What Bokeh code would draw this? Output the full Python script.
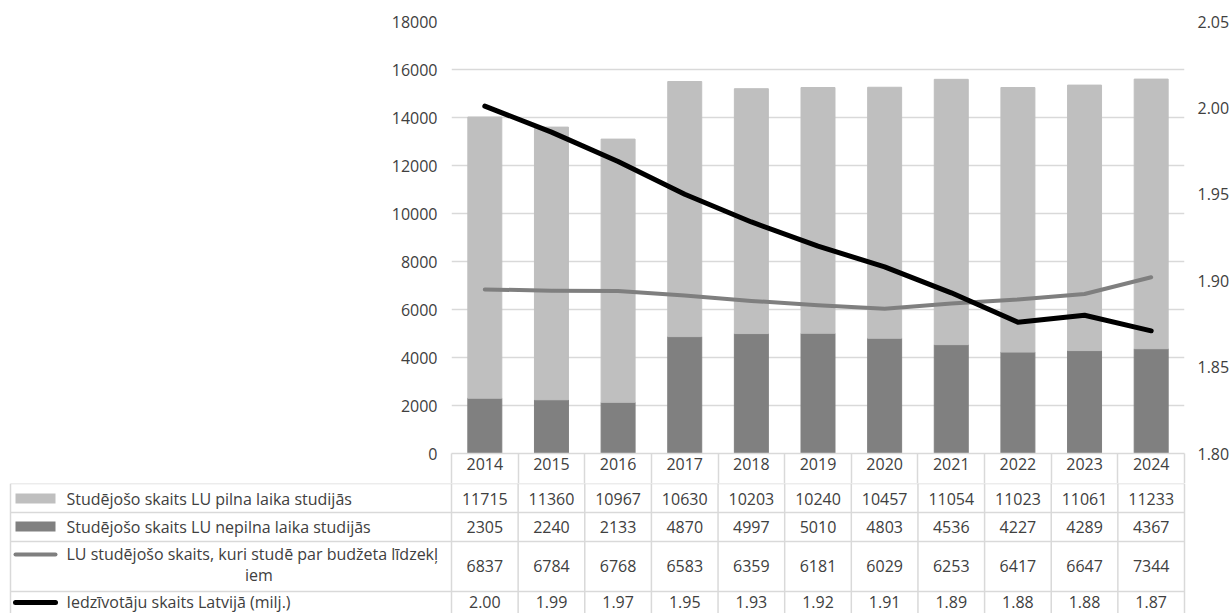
from bokeh.plotting import figure
from bokeh.models import (ColumnDataSource, Range1d, LinearAxis, FixedTicker,
                          PrintfTickFormatter, Grid)
from bokeh.layouts import column
from bokeh.embed import file_html
from bokeh.resources import INLINE
from bokeh.core.properties import value

# ---------------- data ----------------
years = [2014, 2015, 2016, 2017, 2018, 2019, 2020, 2021, 2022, 2023, 2024]
full_time = [11715, 11360, 10967, 10630, 10203, 10240, 10457, 11054, 11023, 11061, 11233]
part_time = [2305, 2240, 2133, 4870, 4997, 5010, 4803, 4536, 4227, 4289, 4367]
budget = [6837, 6784, 6768, 6583, 6359, 6181, 6029, 6253, 6417, 6647, 7344]
population = [2.001, 1.986, 1.969, 1.950, 1.934, 1.920, 1.908, 1.893, 1.876, 1.880, 1.871]

series_names = [
    "Studējošo skaits LU pilna laika studijās",
    "Studējošo skaits LU nepilna laika studijās",
    "LU studējošo skaits, kuri studē par budžeta līdzekļ",
    "Iedzīvotāju skaits Latvijā (milj.)",
]
series_name_wrap = "iem"
left_ticks = [0, 2000, 4000, 6000, 8000, 10000, 12000, 14000, 16000, 18000]
right_ticks = [1.80, 1.85, 1.90, 1.95, 2.00, 2.05]

# ---------------- style ----------------
FONT = "Open Sans"
FS = "16px"
TXT = "#404040"
GRID = "#D9D9D9"
LIGHT = "#BFBFBF"
DARK = "#808080"
GRAYLINE = "#7F7F7F"

W = 1232
TOP_H = 483
FL, FR, FT, FB = 451, 48, 21, 30
n = len(years)
xs = list(range(n))

src = ColumnDataSource(dict(x=xs, full=full_time, part=part_time,
                            budget=budget, pop=population))

p = figure(width=W, height=TOP_H, output_backend="svg", toolbar_location=None,
           x_range=Range1d(-0.5, n - 0.5), y_range=Range1d(left_ticks[0], left_ticks[-1]),
           min_border_left=FL, min_border_right=FR, min_border_top=FT, min_border_bottom=FB,
           x_axis_location=None, y_axis_location=None, frame_align=False)
p.outline_line_color = None
p.background_fill_color = "white"
p.border_fill_color = "white"
p.xgrid.visible = False
p.ygrid.visible = False
p.extra_y_ranges = {"pop": Range1d(right_ticks[0], right_ticks[-1])}

# left axis
yax = LinearAxis(ticker=FixedTicker(ticks=left_ticks))
yax.axis_line_color = None
yax.major_tick_line_color = None
yax.minor_tick_line_color = None
yax.major_tick_out = 0
yax.major_tick_in = 0
yax.major_label_standoff = 14
yax.major_label_text_font = FONT
yax.major_label_text_font_size = FS
yax.major_label_text_color = TXT
p.add_layout(yax, "left")
p.add_layout(Grid(dimension=1, ticker=yax.ticker, grid_line_color=GRID,
                  grid_line_width=1.3), "center")

# right axis
rax = LinearAxis(y_range_name="pop", ticker=FixedTicker(ticks=right_ticks),
                 formatter=PrintfTickFormatter(format="%.2f"))
rax.axis_line_color = None
rax.major_tick_line_color = None
rax.minor_tick_line_color = None
rax.major_tick_out = 0
rax.major_tick_in = 0
rax.major_label_standoff = 13
rax.major_label_text_font = FONT
rax.major_label_text_font_size = FS
rax.major_label_text_color = TXT
p.add_layout(rax, "right")

# bottom axis = header row of the data table
xax = LinearAxis(ticker=FixedTicker(ticks=xs, minor_ticks=[i - 0.5 for i in range(n + 1)]),
                 major_label_overrides={i: str(y) for i, y in enumerate(years)})
xax.axis_line_color = GRID
xax.axis_line_width = 1.5
xax.major_tick_line_color = None
xax.major_tick_out = 0
xax.major_tick_in = 0
xax.minor_tick_in = 0
xax.minor_tick_out = 30
xax.minor_tick_line_color = GRID
xax.minor_tick_line_width = 1.5
xax.major_label_standoff = -26
xax.major_label_text_font = FONT
xax.major_label_text_font_size = FS
xax.major_label_text_color = TXT
p.add_layout(xax, "below")

p.vbar_stack(["part", "full"], x="x", width=0.51, color=[DARK, LIGHT], source=src)
p.line("x", "budget", source=src, line_color=GRAYLINE, line_width=4,
       line_cap="round", line_join="round")
p.line("x", "pop", source=src, y_range_name="pop", line_color="black", line_width=5,
       line_cap="round", line_join="round")

# ---------------- data table ----------------
TH = 130
t = figure(width=W, height=TH, output_backend="svg", toolbar_location=None,
           x_range=Range1d(0, W), y_range=Range1d(TH, 0), min_border=0,
           x_axis_location=None, y_axis_location=None, frame_align=False)
t.outline_line_color = None
t.background_fill_color = "white"
t.border_fill_color = "white"
t.xgrid.visible = False
t.ygrid.visible = False

col_w = (W - FL - FR) / n
col_edges = [FL + i * col_w for i in range(n + 1)]
col_centers = [FL + (i + 0.5) * col_w for i in range(n)]
leg_left = 10
row_edges = [0, 29, 58, 108]
row_text_y = [15, 43, 82, 118]

# borders
t.segment(x0=[leg_left] * len(row_edges), x1=[col_edges[-1]] * len(row_edges),
          y0=row_edges, y1=row_edges, line_color=GRID, line_width=1.5)
vx = [leg_left] + col_edges
t.segment(x0=vx, x1=vx, y0=[0] * len(vx), y1=[TH] * len(vx),
          line_color=GRID, line_width=1.5)

# cell values
rows = [
    [str(v) for v in full_time],
    [str(v) for v in part_time],
    [str(v) for v in budget],
    ["%.2f" % v for v in population],
]
cx, cy, ct = [], [], []
for r, vals in enumerate(rows):
    for i, s in enumerate(vals):
        cx.append(col_centers[i])
        cy.append(row_text_y[r])
        ct.append(s)
t.text(x=cx, y=cy, text=ct, text_font=value(FONT), text_font_size=FS,
       text_color=TXT, text_align="center", text_baseline="middle")

# legend keys
sym_x0, sym_x1 = 15, 55
t.rect(x=[(sym_x0 + sym_x1) / 2] * 2, y=[row_text_y[0], row_text_y[1]],
       width=sym_x1 - sym_x0, height=10, fill_color=[LIGHT, DARK], line_color=None)
t.line(x=[sym_x0, sym_x1], y=[71, 71], line_color=GRAYLINE, line_width=4, line_cap="round")
t.line(x=[sym_x0, sym_x1], y=[row_text_y[3] + 1, row_text_y[3] + 1], line_color="black",
       line_width=5, line_cap="round")

# legend names
text_x = 66
t.text(x=[text_x] * 4, y=[row_text_y[0], row_text_y[1], 70, row_text_y[3]],
       text=series_names, text_font=value(FONT), text_font_size=FS,
       text_color=TXT, text_align="left", text_baseline="middle")
t.text(x=[(text_x + FL) / 2], y=[91], text=[series_name_wrap], text_font=value(FONT),
       text_font_size=FS, text_color=TXT, text_align="center", text_baseline="middle")

layout = column(p, t, spacing=0)
open("out.html", "w").write(file_html(layout, INLINE))
